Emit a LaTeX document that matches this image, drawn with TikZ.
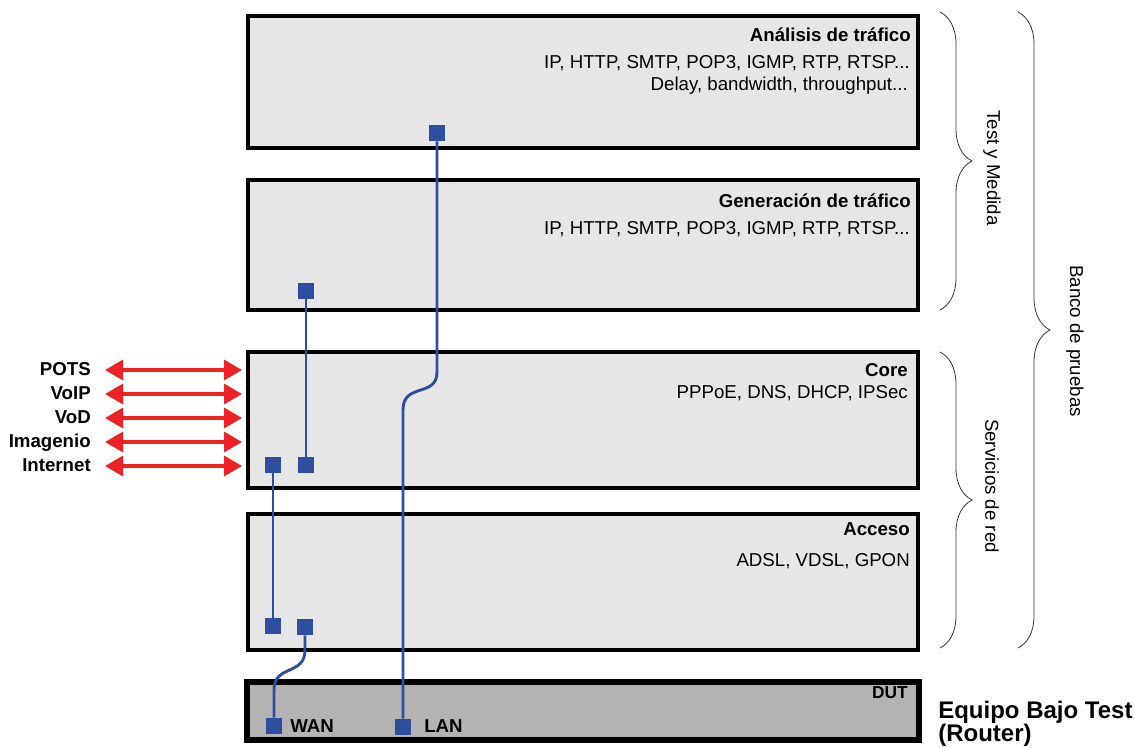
\documentclass[tikz,border=0pt]{standalone}
\usepackage{fontspec}
\setmainfont{Liberation Sans}
\usetikzlibrary{arrows.meta, positioning, decorations.pathreplacing, calc}
\definecolor{layergray}{RGB}{230,230,230}
\definecolor{dutgray}{RGB}{179,179,179}
\definecolor{portblue}{RGB}{46,78,160}
\definecolor{svcred}{RGB}{236,34,36}
\tikzset{
    layer/.style={rectangle, draw=black, fill=layergray, line width=3pt,
                  minimum width=502.5pt, minimum height=99pt, inner sep=0pt},
    dutbox/.style={rectangle, draw=black, fill=dutgray, line width=4.5pt,
                   minimum width=504pt, minimum height=43.5pt, inner sep=0pt},
    title/.style={anchor=base east, inner sep=0pt, font=\bfseries\fontsize{14}{16}\selectfont},
    protos/.style={anchor=base east, inner sep=0pt, font=\fontsize{14}{16}\selectfont},
    port/.style={rectangle, fill=portblue, minimum size=12pt, inner sep=0pt},
    portlabel/.style={anchor=base west, inner sep=0pt, font=\bfseries\fontsize{14}{16}\selectfont},
    link/.style={portblue, line width=2.2pt},
    svcarrow/.style={svcred, line width=2.5pt,
                     {Triangle[length=13.5pt,width=15pt]}-{Triangle[length=13.5pt,width=15pt]}},
    svclabel/.style={anchor=base east, inner sep=0pt, font=\bfseries\fontsize{14}{16}\selectfont},
    groupbrace/.style={decorate, decoration={brace, amplitude=24pt}, line width=0.6pt, black!80},
    bracelabel/.style={rotate=-90, inner sep=0pt, font=\fontsize{14}{16}\selectfont}
}

\begin{document}
\begin{tikzpicture}[x=0.75pt, y=-0.75pt]
    \useasboundingbox (0,0) rectangle (1135,747);

    % Analisis de trafico
    \node[layer, minimum height=99pt] (ana) at (583,82) {};
    \node[title] (anat) at (911,41) {Análisis de tráfico};
    \node[protos] (anap1) at (910,68) {IP, HTTP, SMTP, POP3, IGMP, RTP, RTSP...};
    \node[protos] (anap2) at (908,90) {Delay, bandwidth, throughput...};

    % Generacion de trafico
    \node[layer, minimum height=97.5pt] (gen) at (583,245) {};
    \node[title] (gent) at (911,207) {Generación de tráfico};
    \node[protos] (genp1) at (910,234) {IP, HTTP, SMTP, POP3, IGMP, RTP, RTSP...};

    % Core
    \node[layer, minimum height=102pt] (core) at (583,420) {};
    \node[title] (coret) at (908,376) {Core};
    \node[protos] (corep1) at (908,398) {PPPoE, DNS, DHCP, IPSec};

    % Acceso
    \node[layer, minimum height=102pt] (acc) at (583,582) {};
    \node[title] (acct) at (910,535) {Acceso};
    \node[protos] (accp1) at (910,566) {ADSL, VDSL, GPON};

    % DUT
    \node[dutbox] (dut) at (583,711) {};
    \node[title, font=\bfseries\fontsize{13}{15}\selectfont] (dutt) at (908,698) {DUT};
    \node[anchor=west, align=left, inner sep=0pt,
          font=\bfseries\fontsize{18}{17.5}\selectfont] (router) at (938,724)
        {Equipo Bajo Test\\(Router)};

    % Ports
    \node[port] (anaport) at (437,133) {};
    \node[port] (genport) at (306,291) {};
    \node[port] (coreportA) at (273,465) {};
    \node[port] (coreportB) at (306,465) {};
    \node[port] (accportA) at (273,626) {};
    \node[port] (accportB) at (305,627) {};
    \node[port] (wan) at (274,726) {};
    \node[port] (lan) at (403,727) {};
    \node[portlabel] (wanl) at (290,732) {WAN};
    \node[portlabel] (lanl) at (424,732) {LAN};

    % Links
    \draw[link] (genport) -- (coreportB);
    \draw[link] (coreportA) -- (accportA);
    \draw[link] (anaport.south) -- (437,372) .. controls (437,398) and (403,382) .. (403,410) -- (lan.north);
    \draw[link] (accportB.south) -- (305,650) .. controls (305,676) and (274,664) .. (274,690) -- (wan.north);

    % Services
    \foreach \name/\txt/\y in {pots/POTS/370, voip/VoIP/394, vod/VoD/418, imagenio/Imagenio/442, internet/Internet/466} {
        \node[svclabel] (\name) at (91,\y+5) {\txt};
        \draw[svcarrow] (105,\y) -- ([xshift=-3pt]core.west |- 0,\y);
    }

    % Braces
    \draw[groupbrace] (940,12) -- (940,310);
    \draw[groupbrace] (940,352) -- (940,648);
    \draw[groupbrace] (1018,12) -- (1018,648);
    \node[bracelabel] (testlbl) at (992,168) {Test y Medida};
    \node[bracelabel] (servlbl) at (992,486) {Servicios de red};
    \node[bracelabel] (bancolbl) at (1075,341) {Banco de pruebas};
\end{tikzpicture}
\end{document}
